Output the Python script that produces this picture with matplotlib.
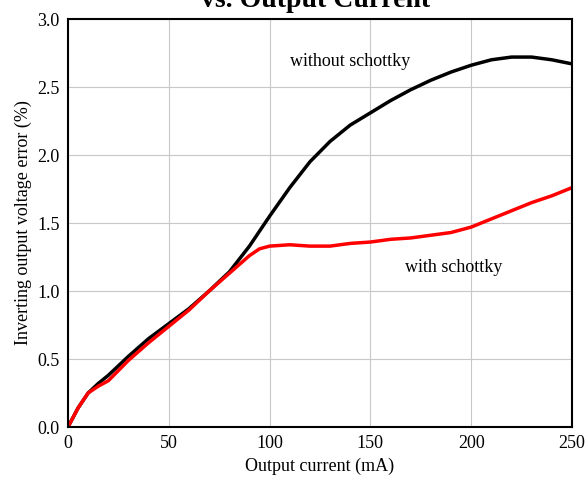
import numpy as np
import matplotlib.pyplot as plt

plt.rcParams['font.family'] = ['Liberation Serif', 'DejaVu Serif']

# output current (mA)
current = [0, 5, 10, 15, 20, 30, 40, 50, 60, 70, 80, 90, 95, 100, 110, 120, 130,
           140, 150, 160, 170, 180, 190, 200, 210, 220, 230, 240, 250]

# inverting output voltage error (%)
err_without = [0, 0.14, 0.25, 0.32, 0.38, 0.52, 0.65, 0.76, 0.87, 1.0, 1.14, 1.33,
               1.44, 1.55, 1.76, 1.95, 2.10, 2.22, 2.31, 2.40, 2.48, 2.55, 2.61,
               2.66, 2.70, 2.72, 2.72, 2.70, 2.67]
err_with = [0, 0.14, 0.25, 0.30, 0.34, 0.49, 0.62, 0.74, 0.86, 1.0, 1.13, 1.26,
            1.31, 1.33, 1.34, 1.33, 1.33, 1.35, 1.36, 1.38, 1.39, 1.41, 1.43,
            1.47, 1.53, 1.59, 1.65, 1.70, 1.76]

fig = plt.figure(figsize=(5.88, 4.9), dpi=100)
ax = fig.add_axes([68 / 588, 1 - 427 / 490, 504 / 588, 408 / 490])

ax.plot(current, err_without, color='black', lw=2.5, solid_joinstyle='round')
ax.plot(current, err_with, color='#ff0000', lw=2.5, solid_joinstyle='round')

ax.set_xlim(0, 250)
ax.set_ylim(0, 3.0)
ax.set_xticks(np.arange(0, 251, 50))
ax.set_yticks(np.arange(0, 3.01, 0.5))
ax.yaxis.set_major_formatter(plt.FormatStrFormatter('%.1f'))
ax.grid(True, color='#c8c8c8', lw=0.8)
ax.tick_params(length=0, labelsize=13, pad=6)
for s in ax.spines.values():
    s.set_linewidth(1.5)

ax.set_xlabel('Output current (mA)', fontsize=13)
ax.set_ylabel('Inverting output voltage error (%)', fontsize=13)

ax.text(110, 2.69, 'without schottky', fontsize=13, va='center')
ax.text(167, 1.17, 'with schottky', fontsize=13, va='center')

# second line of the title; the first line sits above the figure edge
fig.text(0.536, 0.985, 'vs. Output Current', fontsize=20, fontweight='bold',
         ha='center', va='baseline')

fig.savefig('out.png', dpi=100)
